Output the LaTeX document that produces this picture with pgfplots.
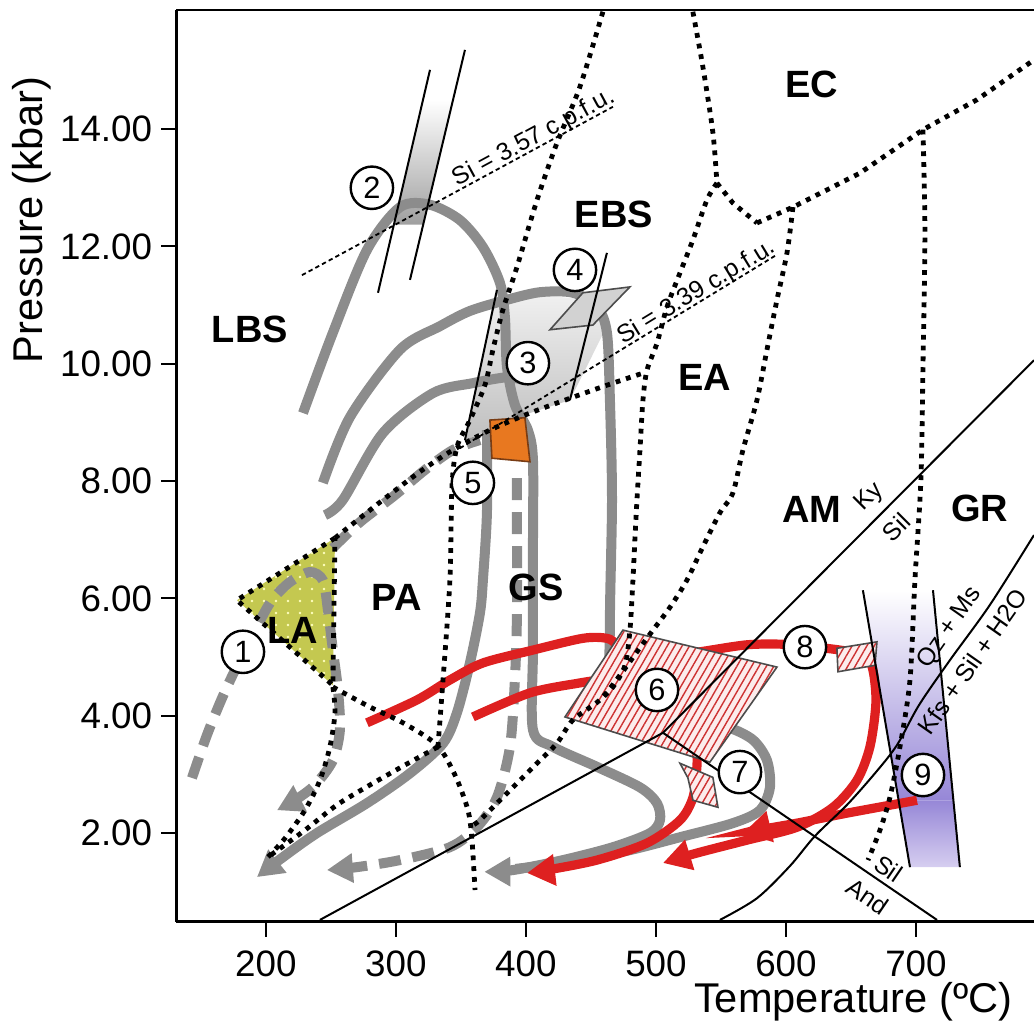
\documentclass[border=0pt]{standalone}
\usepackage{fontspec}
\setmainfont{Liberation Sans}
\usepackage{pgfplots}
\pgfplotsset{compat=1.18}
\usetikzlibrary{arrows.meta,patterns.meta,calc}
\definecolor{pgray}{RGB}{140,140,140}
\definecolor{pred}{RGB}{222,32,32}
\definecolor{lacol}{RGB}{196,200,80}
\definecolor{orng}{RGB}{232,120,32}
\definecolor{purp}{RGB}{150,135,215}
\definecolor{purpl}{RGB}{214,206,240}
\definecolor{pinkbg}{RGB}{252,236,236}
\definecolor{hatchc}{RGB}{205,50,50}
\tikzset{
  dotl/.style={black, line width=1.2pt, dash pattern=on 1.2pt off 1.5pt},
  grayp/.style={pgray, line width=2.5pt},
  grayd/.style={pgray, line width=2.5pt, dash pattern=on 5.5pt off 3pt},
  redp/.style={pred, line width=2.3pt},
  thinl/.style={black, line width=0.5pt},
  sidash/.style={black, line width=0.45pt, dash pattern=on 1.1pt off 0.8pt},
  garrow/.style={-{Triangle[length=6.5pt,width=7pt]}},
  rarrow/.style={-{Triangle[length=7pt,width=7.5pt]}},
  flab/.style={font=\bfseries\fontsize{9.5}{10}\selectfont, inner sep=0pt},
  slab/.style={font=\fontsize{6.2}{7}\selectfont, inner sep=0pt},
  hatchpoly/.style={draw=none, pattern={Lines[angle=60,distance=1.6pt,line width=0.35pt]}, pattern color=hatchc},
}
\begin{document}
\begin{tikzpicture}
\begin{axis}[
  name=ax,
  width=214.375pt, height=227.925pt, scale only axis,
  xmin=131.2, xmax=790.8, ymin=0.49, ymax=16.03,
  axis x line*=bottom, axis y line*=left,
  axis line style={-, line width=0.7pt},
  xtick={200,300,...,700}, ytick={2,4,...,14},
  tick align=outside, major tick length=3.75pt,
  tick style={line width=0.5pt, black},
  /pgf/number format/assume math mode=true,
  tick label style={font=\fontsize{9.2}{10}\selectfont},
  yticklabel style={/pgf/number format/.cd, fixed, fixed zerofill, precision=2, /tikz/xshift=1.2pt},
  xticklabel style={/pgf/number format/.cd, fixed, precision=0},
  xlabel={Temperature (ºC)},
  ylabel={Pressure (kbar)},
  xlabel style={at={(axis description cs:0.9755,0)}, anchor=base east, yshift=-22.6pt, inner sep=0pt, font=\fontsize{10.4}{12}\selectfont},
  ylabel style={at={(axis description cs:-0.1557,0.7697)}, anchor=base, inner sep=0pt, font=\fontsize{10.4}{12}\selectfont},
]
% ---------- shaded areas ----------
% area 2
\addplot[draw=none, top color=white, bottom color=gray!75] coordinates {(320.8,14.50) (343.8,14.50) (320.8,12.37) (298.5,12.37)} -- cycle;
% area 3
\addplot[draw=none, top color=gray!12, bottom color=gray!50] coordinates {(374.6,11.04) (410.8,11.17) (449.2,11.09) (460.8,10.58) (449.2,10.06) (433.8,9.38) (403.1,9.16) (372.3,8.87) (353.1,8.70) (363.1,9.72)} -- cycle;
% area 9
\addplot[draw=none, top color=white, bottom color=purp] coordinates {(659.2,6.14) (713.1,6.14) (728.8,2.56) (686.6,2.56)} -- cycle;
\addplot[draw=none, top color=purp, bottom color=purpl] coordinates {(686.6,2.56) (728.8,2.56) (733.8,1.42) (695.4,1.42)} -- cycle;
% LA field
\addplot[draw=none, fill=lacol] coordinates {(253.1,7.03) (177.7,5.97) (251.5,4.52)} -- cycle;
\addplot[draw=none, pattern={Dots[distance=3pt,radius=0.35pt]}, pattern color=white!75!yellow] coordinates {(253.1,7.03) (177.7,5.97) (251.5,4.52)} -- cycle;

% ---------- grey P-T paths ----------
\addplot[grayp, smooth] coordinates {(245.4,7.42) (259.2,7.68) (290,8.82) (328.5,9.50) (359.2,9.67) (385.4,9.77) (398,9.72)};
\addplot[grayp, smooth] coordinates {(243.8,7.97) (264.6,9.09) (303.1,10.24) (333.8,10.64) (356.9,10.90) (385.4,11.09) (410.8,11.22) (436.2,11.21) (454.6,10.97) (462.3,10.53) (464.6,9.38) (466.2,7.68) (464.6,5.63) (466.2,4.44) (487.7,4.06) (526.2,3.93) (554.6,3.81) (574.6,3.59) (585.4,3.24) (587.7,2.78) (580,2.39) (559.2,2.17) (518.5,1.93) (480,1.71) (441.5,1.54) (410.8,1.44) (392,1.39)};
\addplot[grayp, smooth, garrow] coordinates {(228.5,9.16) (251.5,10.53) (277.7,11.94) (303.1,12.67) (326.2,12.71) (349.2,12.45) (366.9,11.99) (380,11.38) (383.8,10.80) (385.4,9.95) (391.5,9.30) (401.5,8.87) (405.4,8.36) (405.4,6.83) (405.4,5.12) (405.4,3.76) (420.8,3.47) (454.6,3.13) (487.7,2.78) (500.8,2.51) (503.1,2.22) (495.4,2.00) (466.9,1.76) (428.5,1.54) (390,1.37) (368,1.34)};
\addplot[grayp, smooth, garrow] coordinates {(370,8.87) (370,7.46) (366.9,6.31) (364.6,5.75) (356.9,4.90) (346.9,4.05) (336.2,3.53) (310.8,3.02) (277.7,2.51) (239.2,2.00) (213.1,1.59) (193.1,1.25)};
\addplot[grayd, smooth, garrow] coordinates {(143.1,2.94) (154.6,3.67) (166.2,4.30) (176.9,4.81) (193.8,5.55) (204.6,5.97) (218.5,6.28) (233.8,6.45) (243.8,6.31) (247.7,5.80) (251.5,5.12) (255.4,4.44) (256.9,3.76) (251.5,3.24) (237.7,2.82) (222.3,2.56) (208.5,2.39)};
\addplot[grayd, smooth] coordinates {(251.5,6.86) (272.3,7.30) (299.2,7.76) (322.3,8.19) (343.8,8.53) (364.6,8.70)};
\addplot[grayd, smooth, garrow] coordinates {(393.1,8.05) (393.1,7.17) (393.1,5.75) (391.5,4.61) (387.7,3.47) (377.7,2.61) (362.3,2.10) (341.5,1.76) (303.1,1.54) (270,1.42) (246.9,1.37)};

% ---------- red P-T paths ----------
\addplot[redp, smooth] coordinates {(277.7,3.88) (316.2,4.27) (341.5,4.61) (366.9,4.90) (405.4,5.12) (443.8,5.32) (462.3,5.32) (470,5.21) (480,5.0)};
\addplot[redp, smooth] coordinates {(359.2,3.98) (403.1,4.39) (441.5,4.56) (460,4.62)};
\addplot[redp, smooth, rarrow] coordinates {(520,5.05) (533.8,5.09) (570,5.21) (597.7,5.22) (614.6,5.19) (641.5,5.12) (660.8,5.03) (666.9,4.78) (669.2,4.22) (664.6,3.47) (654.6,2.90) (636.2,2.44) (608.5,2.10) (570,1.88) (531.5,1.66) (505.4,1.49)};
\addplot[redp, smooth, rarrow] coordinates {(531.5,3.35) (531.5,3.13) (528.5,2.61) (518.5,2.22) (493.1,1.83) (454.6,1.54) (416.2,1.37) (400.8,1.32)};
\addplot[redp, smooth, rarrow] coordinates {(700.8,2.56) (646.9,2.34) (608.5,2.17) (577.7,2.05) (566.9,2.00)};

% ---------- boxes ----------
\addplot[fill=orng, draw={rgb,255:red,120;green,60;blue,20}, line width=0.4pt] coordinates {(372.3,9.04) (399.2,9.08) (403.1,8.33) (373.8,8.39)} -- cycle;
\addplot[fill=gray!35, draw=gray!60!black, line width=0.4pt] coordinates {(418.5,10.58) (443.8,11.21) (480,11.31) (451.5,10.66)} -- cycle;
% hatched 6, 7, 8
\addplot[fill=pinkbg, draw=none] coordinates {(430,3.98) (474.6,5.46) (593.1,4.83) (541.5,3.21)} -- cycle;
\addplot[hatchpoly] coordinates {(430,3.98) (474.6,5.46) (593.1,4.83) (541.5,3.21)} -- cycle;
\addplot[draw=black!70, line width=0.4pt] coordinates {(430,3.98) (474.6,5.46) (593.1,4.83) (541.5,3.21)} -- cycle;
\addplot[fill=pinkbg, draw=none] coordinates {(518.5,3.19) (543.8,2.95) (547.7,2.44) (528.5,2.56) (524.6,2.94)} -- cycle;
\addplot[hatchpoly] coordinates {(518.5,3.19) (543.8,2.95) (547.7,2.44) (528.5,2.56) (524.6,2.94)} -- cycle;
\addplot[draw=black!70, line width=0.4pt] coordinates {(518.5,3.19) (543.8,2.95) (547.7,2.44) (528.5,2.56) (524.6,2.94)} -- cycle;
\addplot[fill=pinkbg, draw=none] coordinates {(639.2,5.15) (670,5.26) (668.5,4.86) (640,4.75)} -- cycle;
\addplot[hatchpoly] coordinates {(639.2,5.15) (670,5.26) (668.5,4.86) (640,4.75)} -- cycle;
\addplot[draw=black!70, line width=0.4pt] coordinates {(639.2,5.15) (670,5.26) (668.5,4.86) (640,4.75)} -- cycle;

% ---------- thin lines ----------
\addplot[thinl] coordinates {(326.2,15.01) (286.2,11.21)};
\addplot[thinl] coordinates {(353.1,15.35) (310.8,11.43)};
\addplot[thinl] coordinates {(377.7,11.26) (353.1,8.70)};
\addplot[thinl] coordinates {(462.3,11.89) (433.8,9.38)};
\addplot[thinl] coordinates {(659.2,6.14) (695.4,1.42)};
\addplot[thinl] coordinates {(713.1,6.14) (733.8,1.42)};
\addplot[thinl] coordinates {(241.5,0.52) (505.4,3.71) (790.8,10.06)};
\addplot[thinl] coordinates {(505.4,3.71) (716.2,0.52)};
\addplot[thinl, smooth] coordinates {(549.2,0.52) (577.7,0.89) (603.1,1.44) (622.3,1.95) (646.9,2.48) (668.5,3.02) (685.4,3.50) (702.3,4.18) (726.2,4.95) (756.9,5.89) (790.8,7.08)};

% ---------- facies boundaries (dotted) ----------
\addplot[dotl] coordinates {(253.1,7.03) (177.7,5.97) (251.5,4.52) (253.1,7.03)};
\addplot[dotl, smooth] coordinates {(459.2,16.0) (441.5,14.72) (423.8,13.76) (408.5,12.79) (393.1,11.65) (382.3,10.92) (374.6,10.24) (368.5,9.64) (356.9,9.04) (346.9,8.58) (343.1,7.90) (341.5,6.31) (336.2,4.61) (332.3,3.47)};
\addplot[dotl, smooth] coordinates {(332.3,3.47) (306.9,3.16) (280,2.82) (254.6,2.48) (230,2.05) (201.5,1.59)};
\addplot[dotl, smooth] coordinates {(251.5,4.49) (280,4.15) (305.4,3.88) (331.5,3.50) (345.4,2.99) (355.4,2.39) (358.5,1.88) (360.8,1.03)};
\addplot[dotl, smooth] coordinates {(251.5,4.49) (253.1,4.05) (249.2,3.47) (241.5,2.90) (230,2.39) (214.6,1.91) (201.5,1.59)};
\addplot[dotl, smooth] coordinates {(253.1,7.03) (290,7.68) (318.5,8.16) (343.8,8.53) (372.3,8.87) (403.1,9.16) (436.2,9.43) (466.9,9.67) (490,9.84)};
\addplot[dotl, smooth] coordinates {(528.4,16.0) (536.1,15.06) (543.8,13.94) (546.9,13.08)};
\addplot[dotl] coordinates {(546.9,13.08) (559.2,12.74) (577.7,12.40)};
\addplot[dotl, smooth] coordinates {(546.9,13.08) (539.2,12.79) (528.4,12.11) (518.5,11.55) (508.5,10.97) (500.8,10.35) (493.1,9.89) (490,9.38) (487.7,8.53) (485.4,7.68) (483.8,7.00) (482.3,6.31) (480,5.46) (476.2,4.86) (466.9,4.49) (456.9,4.27)};
\addplot[dotl, smooth] coordinates {(605.4,12.67) (600.8,11.89) (593.1,11.09) (585.4,10.24) (577.7,9.38) (566.9,8.53) (559.2,7.80) (549.2,7.46) (536.1,6.88) (523.8,6.31) (510.8,5.85) (497.7,5.46) (485.4,5.09) (472.3,4.69) (456.9,4.27) (436.2,3.93) (423.8,3.53) (408.5,3.19) (393.1,2.85) (377.7,2.51) (364.6,2.22) (356.9,2.10)};
\addplot[dotl] coordinates {(577.7,12.40) (605.4,12.67) (656.9,13.25) (705.4,13.99) (746.9,14.50) (790.8,15.18)};
\addplot[dotl, smooth] coordinates {(705.4,13.99) (706.9,12.23) (705.4,9.95) (703.8,8.02) (699.2,6.31) (695.4,4.61) (687.7,3.47) (680,2.61) (672.3,2.05) (663.1,1.54)};

% ---------- Si isopleths ----------
\addplot[sidash] coordinates {(227.7,11.51) (466.9,14.38)};
\addplot[sidash] coordinates {(349.2,8.56) (593.1,11.86)};
\node[slab, rotate=28.4, anchor=base] at (axis cs:408.5,13.75) {Si = 3.57 c.p.f.u.};
\node[slab, rotate=31.3, anchor=base] at (axis cs:533.8,11.12) {Si = 3.39 c.p.f.u.};

% ---------- reaction labels ----------
\node[slab, rotate=45] at (axis cs:664.5,7.72) {Ky};
\node[slab, rotate=45] at (axis cs:685.0,7.21) {Sil};
\node[slab, rotate=-34.2] at (axis cs:679.0,1.39) {Sil};
\node[slab, rotate=-34.2] at (axis cs:663.0,0.92) {And};
\node[slab, rotate=55] at (axis cs:726.0,5.50) {Qz + Ms};
\node[slab, rotate=55] at (axis cs:743.5,4.92) {Kfs + Sil + H2O};

% ---------- facies labels ----------
\node[flab] at (axis cs:187.7,10.58) {LBS};
\node[flab] at (axis cs:467.7,12.54) {EBS};
\node[flab] at (axis cs:620,14.77) {EC};
\node[flab] at (axis cs:537.7,9.77) {EA};
\node[flab] at (axis cs:620,7.51) {AM};
\node[flab] at (axis cs:749.2,7.54) {GR};
\node[flab] at (axis cs:220.8,5.46) {LA};
\node[flab] at (axis cs:300.8,6.02) {PA};
\node[flab] at (axis cs:407.7,6.18) {GS};

% ---------- numbered circles ----------
\addplot[only marks, mark=*, mark size=5.3pt,
  mark options={fill=white, draw=black, line width=0.6pt, solid},
  nodes near coords, point meta=explicit symbolic,
  every node near coord/.append style={anchor=center, inner sep=0pt, font=\fontsize{7.7}{8}\selectfont}]
  table[meta=lab] {
x y lab
182.3 5.09 1
281.5 13.00 2
401.5 10.01 3
437.7 11.60 4
359.2 7.97 5
500.8 4.44 6
564.6 3.04 7
614.6 5.17 8
705.4 2.99 9
};
\end{axis}
\draw[line width=0.7pt] (ax.north west) -- (ax.north east);
\pgfresetboundingbox
\path ($(ax.south west)+(-44.125pt,-24.825pt)$) rectangle ($(ax.north east)+(0pt,2.5pt)$);
\end{tikzpicture}
\end{document}
